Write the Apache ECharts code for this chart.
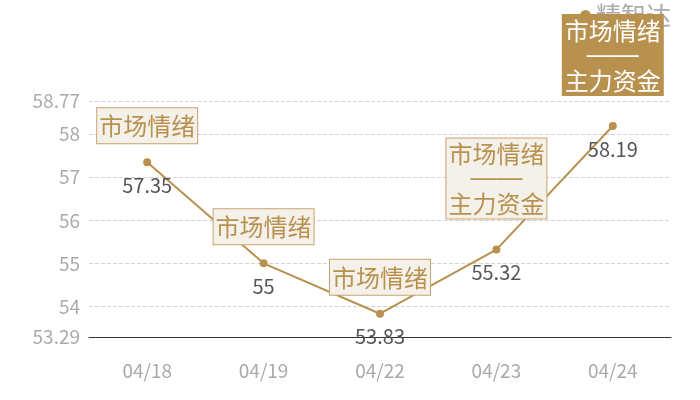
<!DOCTYPE html>
<html>
<head>
<meta charset="utf-8">
<script src="https://cdn.jsdelivr.net/npm/echarts@6/dist/echarts.min.js"></script>
<style>
html, body { margin: 0; padding: 0; background: #fff; }
#panel { width: 700px; height: 400px; }
</style>
</head>
<body>
<div id="panel"></div>
<script>
var dates = ['04/18', '04/19', '04/22', '04/23', '04/24'];
var prices = [57.35, 55, 53.83, 55.32, 58.19];
var notes = ['市场情绪', '市场情绪', '市场情绪', '市场情绪\n——\n主力资金', '市场情绪\n——\n主力资金'];
var yMin = 53.29;
var yMax = 58.77;
var seriesName = '精智达';

var gold = '#b8914f';
var font = '"Noto Sans CJK SC", "Noto Sans", sans-serif';

function draw() {
    var myChart = echarts.init(document.getElementById('panel'));

    var marks = [];
    for (var i = 0; i < dates.length; i++) {
        var last = i === dates.length - 1;
        var multi = notes[i].indexOf('\n') >= 0;
        marks.push({
            coord: [dates[i], prices[i]],
            value: notes[i],
            label: {
                distance: multi ? 31 : 19,
                lineHeight: multi ? 25 : 26,
                padding: multi ? [3, 2, 2, 2] : [5, 2, 4, 2],
                backgroundColor: last ? gold : '#f4f0ea',
                borderColor: last ? gold : '#c9a36e',
                color: last ? '#fff' : gold
            }
        });
    }

    myChart.setOption({
        backgroundColor: '#fff',
        textStyle: { fontFamily: font },
        legend: {
            right: 24,
            top: -2,
            itemWidth: 11,
            itemHeight: 11,
            icon: 'circle',
            textStyle: { color: '#aaa', fontSize: 25, fontFamily: font },
            data: [seriesName]
        },
        grid: { left: 89, right: 29, top: 101, bottom: 63 },
        xAxis: {
            type: 'category',
            data: dates,
            axisLine: { lineStyle: { color: '#333' } },
            axisTick: { show: false },
            axisLabel: { color: '#aaa', fontSize: 19, margin: 24, fontFamily: font }
        },
        yAxis: {
            type: 'value',
            min: yMin,
            max: yMax,
            axisLine: { show: false },
            axisTick: { show: false },
            axisLabel: { color: '#aaa', fontSize: 19, margin: 9, fontFamily: font },
            splitLine: { lineStyle: { color: '#d4d4d4', type: 'dashed' } }
        },
        series: [{
            name: seriesName,
            type: 'line',
            data: prices,
            symbol: 'circle',
            symbolSize: 8,
            itemStyle: { color: gold },
            lineStyle: { color: gold, width: 2 },
            label: {
                show: true,
                position: 'bottom',
                distance: 9,
                color: '#555',
                fontSize: 20,
                fontFamily: font
            },
            markPoint: {
                symbol: 'circle',
                symbolSize: 0,
                label: {
                    show: true,
                    position: 'top',
                    formatter: function (p) {
                        return String(p.value).split('\n').map(function (line) {
                            return /^—+$/.test(line) ? '{d|' + line + '}' : line;
                        }).join('\n');
                    },
                    fontSize: 24,
                    fontFamily: font,
                    borderWidth: 1,
                    rich: {
                        d: { fontFamily: '"Liberation Sans"', fontSize: 26, lineHeight: 25 }
                    }
                },
                data: marks
            }
        }]
    });
}
draw();
</script>
</body>
</html>
